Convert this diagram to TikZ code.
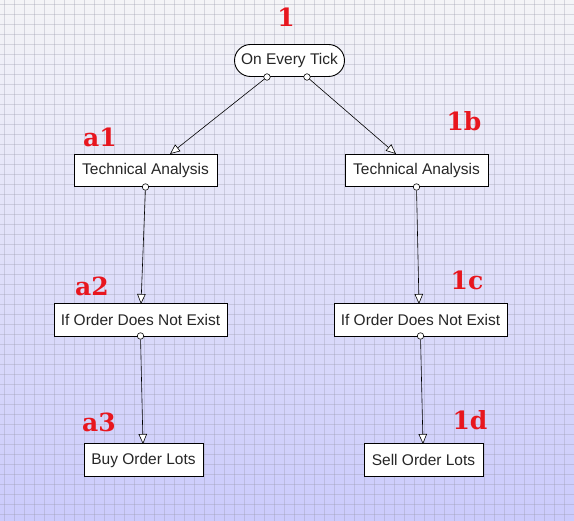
\documentclass[tikz,border=0pt]{standalone}
\usepackage{fontspec}
\setmainfont{Liberation Sans}
\newfontfamily\labfont{DejaVu Serif}
\usetikzlibrary{arrows.meta,calc}
\definecolor{bgtop}{RGB}{244,244,247}
\definecolor{bgbot}{RGB}{203,203,252}
\definecolor{gridc}{RGB}{150,150,168}
\definecolor{labred}{RGB}{232,22,30}
\begin{document}
\begin{tikzpicture}[x=1pt,y=-1pt,
  box/.style={draw=black, line width=0.9pt, fill=white, inner sep=0pt,
    minimum height=32.5pt, font=\fontsize{15.5}{18}\selectfont, text=black!85},
  tickbox/.style={box, rounded corners=16pt, minimum width=110pt, minimum height=32pt},
  dot/.style={circle, draw=black, fill=white, line width=0.6pt, inner sep=0pt, minimum size=6.5pt},
  conn/.style={line width=0.6pt, -{Triangle[length=10pt,width=8.5pt,fill=white]}},
  lab/.style={font=\labfont\bfseries\fontsize{25}{25}\selectfont, text=labred, inner sep=0pt},
  gridline/.style={gridc, opacity=0.32, line width=0.7pt}
]
\useasboundingbox (0,0) rectangle (574,521);
\shade[top color=bgtop, bottom color=bgbot] (0,0) rectangle (574,521);
\foreach \i in {0,...,57} \draw[gridline] (4+10*\i,0) -- (4+10*\i,521);
\foreach \j in {0,...,51} \draw[gridline] (0,4+10*\j) -- (574,4+10*\j);

% nodes
\node[tickbox] (tick) at (289.5,60.5) {On Every Tick};
\node[box, minimum width=143pt] (ta1) at (145.5,170.5) {Technical Analysis};
\node[box, minimum width=143pt] (ta2) at (416.5,170.5) {Technical Analysis};
\node[box, minimum width=173pt] (if1) at (140.5,320) {If Order Does Not Exist};
\node[box, minimum width=173pt] (if2) at (420.5,320) {If Order Does Not Exist};
\node[box, minimum width=119pt] (buy) at (143.5,460) {Buy Order Lots};
\node[box, minimum width=119pt] (sell) at (423.5,460) {Sell Order Lots};

% labels
\node[lab] (l1) at (286,17) {1};
\node[lab] (la1) at (100,137) {a1};
\node[lab] (l1b) at (464,121) {1b};
\node[lab] (la2) at (92,286) {a2};
\node[lab] (l1c) at (467,280) {1c};
\node[lab] (la3) at (99,422) {a3};
\node[lab] (l1d) at (470,420) {1d};

% connector ends
\coordinate (ta1in) at (170,154);
\coordinate (ta2in) at (396,154);
\coordinate (if1in) at (141,304);
\coordinate (if2in) at (419,304);
\coordinate (buyin) at (143,444);
\coordinate (sellin) at (423,444);

% dots
\node[dot] (d1) at (267,77) {};
\node[dot] (d2) at (307,77) {};
\node[dot] (d3) at (145.5,187) {};
\node[dot] (d4) at (416.5,187) {};
\node[dot] (d5) at (140.5,336) {};
\node[dot] (d6) at (420.5,336) {};

% connectors
\draw[conn] (d1) -- (ta1in);
\draw[conn] (d2) -- (ta2in);
\draw[conn] (d3) -- (if1in);
\draw[conn] (d4) -- (if2in);
\draw[conn] (d5) -- (buyin);
\draw[conn] (d6) -- (sellin);
\end{tikzpicture}
\end{document}
